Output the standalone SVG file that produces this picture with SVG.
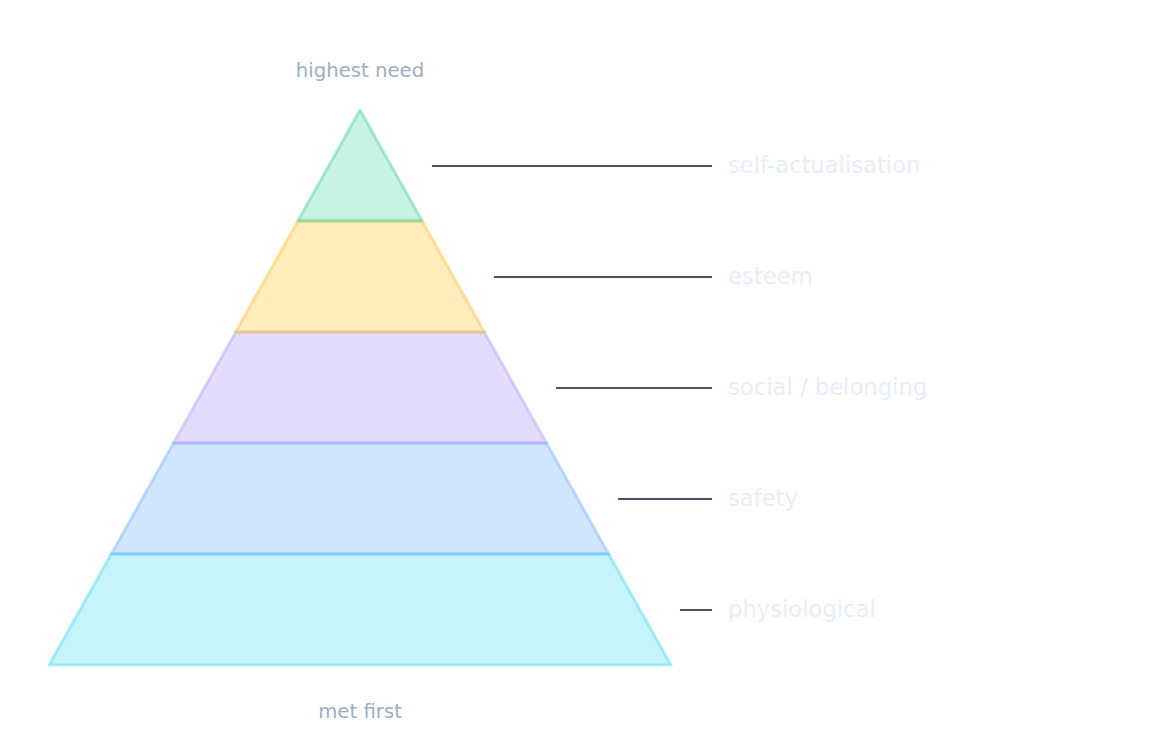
<svg xmlns="http://www.w3.org/2000/svg" width="1176" height="756" viewBox="0 0 1176 756">
<style>
.lvl{stroke-width:3;stroke-linejoin:round}
.cap{font-family:"DejaVu Sans",sans-serif;font-size:19.7px;fill:#a0aec0;text-anchor:middle}
.lbl{font-family:"DejaVu Sans",sans-serif;font-size:22.7px;fill:#e8eef7}
.ld{stroke:#475569;stroke-width:2;fill:none}
</style>
<rect width="1176" height="756" fill="#ffffff"/>
<g id="physiological">
<polygon class="lvl" points="111.2,554 608.8,554 671,665 49,665" fill="#22d3ee" fill-opacity="0.26" stroke="#22d3ee" stroke-opacity="0.35"/>
<text class="lbl" x="728" y="617">physiological</text>
</g>
<g id="safety">
<polygon class="lvl" points="173.4,443 546.6,443 608.8,554 111.2,554" fill="#60a5fa" fill-opacity="0.29" stroke="#60a5fa" stroke-opacity="0.35"/>
<text class="lbl" x="728" y="506">safety</text>
</g>
<g id="social">
<polygon class="lvl" points="235.6,332 484.4,332 546.6,443 173.4,443" fill="#a78bfa" fill-opacity="0.3" stroke="#a78bfa" stroke-opacity="0.35"/>
<text class="lbl" x="728" y="395">social / belonging</text>
</g>
<g id="esteem">
<polygon class="lvl" points="297.8,221 422.2,221 484.4,332 235.6,332" fill="#fbbf24" fill-opacity="0.3" stroke="#fbbf24" stroke-opacity="0.4"/>
<text class="lbl" x="728" y="284">esteem</text>
</g>
<g id="self-actualisation">
<polygon class="lvl" points="360,110 422.2,221 297.8,221" fill="#34d399" fill-opacity="0.28" stroke="#34d399" stroke-opacity="0.4"/>
<text class="lbl" x="728" y="173">self-actualisation</text>
</g>
<g id="connectors">
<line class="ld" x1="432" y1="166" x2="712" y2="166"/>
<line class="ld" x1="494" y1="277" x2="712" y2="277"/>
<line class="ld" x1="556" y1="388" x2="712" y2="388"/>
<line class="ld" x1="618" y1="499" x2="712" y2="499"/>
<line class="ld" x1="680" y1="610" x2="712" y2="610"/>
</g>
<text class="cap" x="360" y="76.5">highest need</text>
<text class="cap" x="360" y="717.5">met first</text>
</svg>
